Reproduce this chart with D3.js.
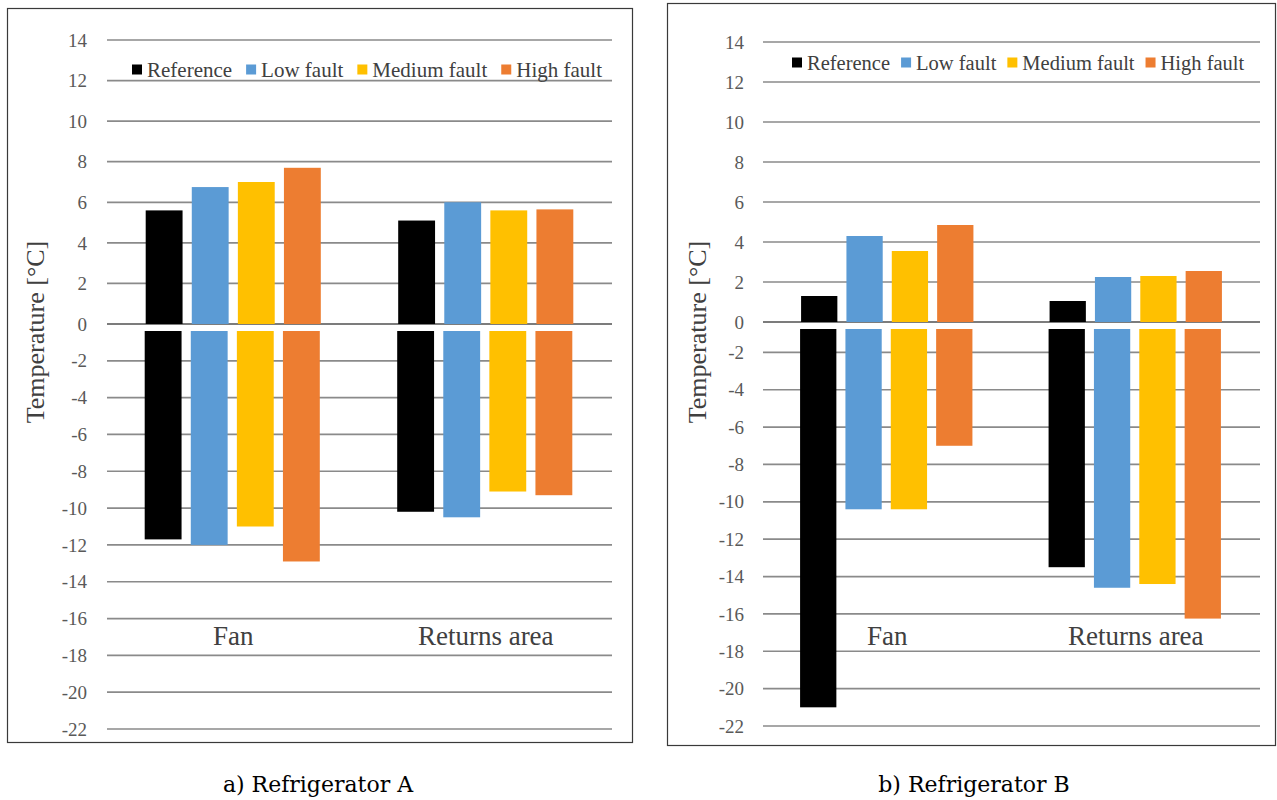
<!DOCTYPE html>
<html>
<head>
<meta charset="utf-8">
<script src="https://cdn.jsdelivr.net/npm/d3@7"></script>
<style>
  html, body { margin: 0; padding: 0; background: #ffffff; }
  svg { display: block; }
</style>
</head>
<body>
<svg id="chart" width="1277" height="800"></svg>
<script>
// Categories and series
const categories = ["Fan", "Returns area"];
const seriesNames = ["Reference", "Low fault", "Medium fault", "High fault"];
const seriesColors = ["#000000", "#5b9bd5", "#ffc000", "#ed7d31"];

// Axis ticks (upper part above zero, lower part below zero)
const upperTicks = [0, 2, 4, 6, 8, 10, 12, 14];
const lowerTicks = [-2, -4, -6, -8, -10, -12, -14, -16, -18, -20, -22];

// Refrigerator A: maximum (above zero) and minimum (below zero) temperatures, [category][series]
const fridgeAMax = [[5.6, 6.75, 7.0, 7.7], [5.1, 6.0, 5.6, 5.65]];
const fridgeAMin = [[-11.7, -12.0, -11.0, -12.9], [-10.2, -10.5, -9.1, -9.3]];

// Refrigerator B
const fridgeBMax = [[1.3, 4.3, 3.55, 4.85], [1.05, 2.25, 2.3, 2.55]];
const fridgeBMin = [[-21.0, -10.4, -10.4, -7.0], [-13.5, -14.6, -14.4, -16.25]];

const captions = ["a) Refrigerator A", "b) Refrigerator B"];
const axisTitle = "Temperature [°C]";

const svg = d3.select("#chart");
const SERIF = '"Liberation Serif"';
const CAPTION_FONT = '"DejaVu Serif"';

function drawPanel(p, maxVals, minVals, caption) {
  const g = svg.append("g");

  // frame
  g.append("rect")
    .attr("x", p.box[0] + 0.5).attr("y", p.box[1] + 0.5)
    .attr("width", p.box[2]).attr("height", p.box[3])
    .attr("fill", "#ffffff").attr("stroke", "#3a3a3a").attr("stroke-width", 1.2);

  const yUp = d3.scaleLinear().domain([0, 14]).range([p.zeroUp, p.top]);
  const yLo = d3.scaleLinear().domain([0, -22]).range([p.zeroLo, p.bottom]);

  const x0 = d3.scaleBand().domain(categories).range([p.x0, p.x1]).padding(0);
  const groupW = x0.bandwidth() * 0.73;
  const x1 = d3.scaleBand().domain(seriesNames)
    .range([-groupW / 2, groupW / 2]).paddingInner(0.2).paddingOuter(0.1);

  // gridlines
  const grid = g.append("g");
  grid.selectAll("line.lo").data(lowerTicks).join("line")
    .attr("x1", p.x0).attr("x2", p.x1)
    .attr("y1", d => yLo(d)).attr("y2", d => yLo(d))
    .attr("stroke", "#8a8a8a").attr("stroke-width", 1.7);
  grid.selectAll("line.up").data(upperTicks).join("line")
    .attr("x1", p.x0).attr("x2", p.x1)
    .attr("y1", d => yUp(d)).attr("y2", d => yUp(d))
    .attr("stroke", d => d === 0 ? "#505050" : "#8a8a8a")
    .attr("stroke-width", 1.7);

  // tick labels
  const tickG = g.append("g");
  const allTicks = upperTicks.map(v => ({ v, y: yUp(v) }))
    .concat(lowerTicks.map(v => ({ v, y: yLo(v) })));
  tickG.selectAll("text").data(allTicks).join("text")
    .style("font-family", SERIF).style("font-size", "19px")
    .attr("fill", "#595959").attr("text-anchor", "end")
    .attr("x", p.tickX).attr("y", d => d.y).attr("dy", "0.35em")
    .text(d => d.v);

  // bars
  const rows = [];
  categories.forEach((c, ci) => {
    seriesNames.forEach((s, si) => {
      rows.push({ cat: c, series: s, color: seriesColors[si], max: maxVals[ci][si], min: minVals[ci][si] });
    });
  });
  const bars = g.append("g");
  bars.selectAll("rect.pos").data(rows).join("rect")
    .attr("x", d => x0(d.cat) + x0.bandwidth() / 2 + x1(d.series))
    .attr("width", x1.bandwidth())
    .attr("y", d => yUp(d.max))
    .attr("height", d => yUp(0) - yUp(d.max))
    .attr("fill", d => d.color);
  const negTop = yUp(0) + p.gap;
  bars.selectAll("rect.neg").data(rows).join("rect")
    .attr("x", d => x0(d.cat) + x0.bandwidth() / 2 + x1(d.series) - 1)
    .attr("width", x1.bandwidth())
    .attr("y", negTop)
    .attr("height", d => yLo(d.min) - negTop)
    .attr("fill", d => d.color);

  // category labels
  g.append("g").selectAll("text").data(categories).join("text")
    .style("font-family", SERIF).style("font-size", "27px")
    .attr("x", d => x0(d) + x0.bandwidth() / 2)
    .attr("y", p.catY)
    .attr("text-anchor", "middle")
    .attr("fill", "#404040")
    .text(d => d);

  // axis title
  g.append("text")
    .style("font-family", SERIF).style("font-size", "26px")
    .attr("transform", `translate(${p.titleX},${p.titleY}) rotate(-90)`)
    .attr("text-anchor", "middle").attr("dy", "0.35em")
    .attr("fill", "#404040")
    .text(axisTitle);

  // legend
  const leg = g.append("g").attr("transform", `translate(${p.legX},${p.legY})`);
  let cx = 0;
  seriesNames.forEach((s, i) => {
    leg.append("rect").attr("x", cx).attr("y", -5).attr("width", 10).attr("height", 10)
      .attr("fill", seriesColors[i]);
    const t = leg.append("text")
      .style("font-family", SERIF).style("font-size", p.legFont + "px")
      .attr("x", cx + 15).attr("y", 0).attr("dy", "0.35em")
      .attr("fill", "#404040")
      .text(s);
    cx += 15 + t.node().getComputedTextLength() + p.legGap;
  });

  // caption under the panel
  svg.append("text")
    .style("font-family", CAPTION_FONT).style("font-size", "22px")
    .attr("x", p.capX).attr("y", 792)
    .attr("text-anchor", "middle")
    .attr("fill", "#000")
    .text(caption);
}

drawPanel({
  box: [7, 8, 625, 734], x0: 107, x1: 612,
  top: 40, zeroUp: 324, zeroLo: 324, bottom: 729, gap: 7,
  tickX: 87, catY: 645, titleX: 35, titleY: 332,
  legX: 132, legY: 69.5, legFont: 21, legGap: 14, capX: 318
}, fridgeAMax, fridgeAMin, captions[0]);

drawPanel({
  box: [667, 3, 608, 742], x0: 763, x1: 1260,
  top: 42, zeroUp: 322, zeroLo: 315, bottom: 726, gap: 7,
  tickX: 744, catY: 645, titleX: 697, titleY: 332,
  legX: 792, legY: 62.5, legFont: 20.5, legGap: 11, capX: 974
}, fridgeBMax, fridgeBMin, captions[1]);
</script>
</body>
</html>
